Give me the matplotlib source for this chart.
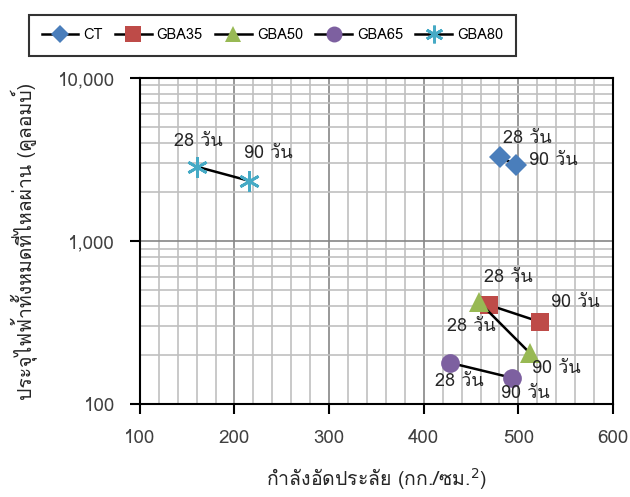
import matplotlib
matplotlib.use('Agg')
import matplotlib.pyplot as plt
from matplotlib import font_manager
from matplotlib.ticker import LogLocator, FixedLocator, FuncFormatter, MultipleLocator
from matplotlib.ft2font import FT2Font

# find a font that can draw Thai
thaiFont = None
for f in font_manager.fontManager.ttflist:
    try:
        if ord('ว') in FT2Font(f.fname).get_charmap():
            thaiFont = f.name
            break
    except Exception:
        pass

fams = ['DejaVu Sans']
if thaiFont:
    fams = [thaiFont, 'DejaVu Sans']
plt.rcParams['font.family'] = fams

# data: compressive strength (ksc) vs total charge passed (coulomb)
series = ['CT', 'GBA35', 'GBA50', 'GBA65', 'GBA80']
strength = {
    'CT': [481, 497],
    'GBA35': [469, 523],
    'GBA50': [458, 512],
    'GBA65': [428, 493],
    'GBA80': [160, 215],
}
charge = {
    'CT': [3280, 2930],
    'GBA35': [405, 319],
    'GBA50': [425, 206],
    'GBA65': [179, 145],
    'GBA80': [2860, 2345],
}
ages = ['28 วัน', '90 วัน']

colors = {'CT': '#4a7ebb', 'GBA35': '#be4b48', 'GBA50': '#98b954',
          'GBA65': '#7d60a0', 'GBA80': '#46aac5'}
markers = {'CT': 'D', 'GBA35': 's', 'GBA50': '^', 'GBA65': 'o', 'GBA80': (6, 2, 0)}
sizes = {'CT': 11, 'GBA35': 13.5, 'GBA50': 14, 'GBA65': 13.5, 'GBA80': 15}

# label offsets in points from marker to text left/baseline (28, 90)
offs = {
    'CT': [(2, 10), (10, 0)],
    'GBA35': [(-3.6, 16.5), (8, 11)],
    'GBA50': [(-23, -21), (1.4, -14.4)],
    'GBA65': [(-11, -17), (-8, -14.4)],
    'GBA80': [(-16.6, 15), (-3.6, 16.5)],
}

fig = plt.figure(figsize=(6.3, 4.97), dpi=100)
ax = fig.add_axes([0.222, 0.187, 0.751, 0.656])

for s in series:
    isStar = s == 'GBA80'
    ax.plot(strength[s], charge[s], color='black', lw=1.8, marker=markers[s],
            markersize=sizes[s], markerfacecolor=colors[s], markeredgecolor=colors[s],
            markeredgewidth=2 if isStar else 0, label=s, zorder=3)
    for i in range(2):
        dx, dy = offs[s][i]
        ax.annotate(ages[i], (strength[s][i], charge[s][i]), xytext=(dx, dy),
                    textcoords='offset points', fontsize=13, ha='left', va='baseline',
                    color='#262626')

ax.set_yscale('log')
ax.set_xlim(100, 600)
ax.set_ylim(100, 10000)
ax.xaxis.set_major_locator(MultipleLocator(100))
ax.xaxis.set_minor_locator(MultipleLocator(20))
ax.yaxis.set_major_locator(FixedLocator([100, 1000, 10000]))
ax.yaxis.set_minor_locator(LogLocator(base=10, subs=range(2, 10)))
ax.yaxis.set_major_formatter(FuncFormatter(lambda v, p: '{:,.0f}'.format(v)))
ax.yaxis.set_minor_formatter(FuncFormatter(lambda v, p: ''))

ax.grid(which='minor', color='#c0c0c0', lw=1.2)
ax.grid(which='major', color='#868686', lw=1.2)
ax.set_axisbelow(True)
ax.tick_params(which='major', direction='out', length=7, width=1.5, labelsize=13.5,
               labelcolor='#404040', pad=11)
ax.tick_params(which='minor', length=0)
for sp in ax.spines.values():
    sp.set_linewidth(1.5)

ax.set_xlabel('กำลังอัดประลัย (กก./ซม.$^2$)', fontsize=14, color='#262626', labelpad=14)
ax.set_ylabel('ประจุไฟฟ้าทั้งหมดที่ไหลผ่าน (คูลอมบ์)', fontsize=14, color='#262626', labelpad=14)

leg = fig.legend(loc='center', bbox_to_anchor=(0.4325, 0.9286), ncol=5, frameon=True,
                 fancybox=False, edgecolor='black', fontsize=10.5, handlelength=2.5,
                 columnspacing=0.85, handletextpad=0.35, borderpad=0.9, markerscale=0.85)
leg.get_frame().set_linewidth(1.5)

plt.savefig('out.png', dpi=100)
